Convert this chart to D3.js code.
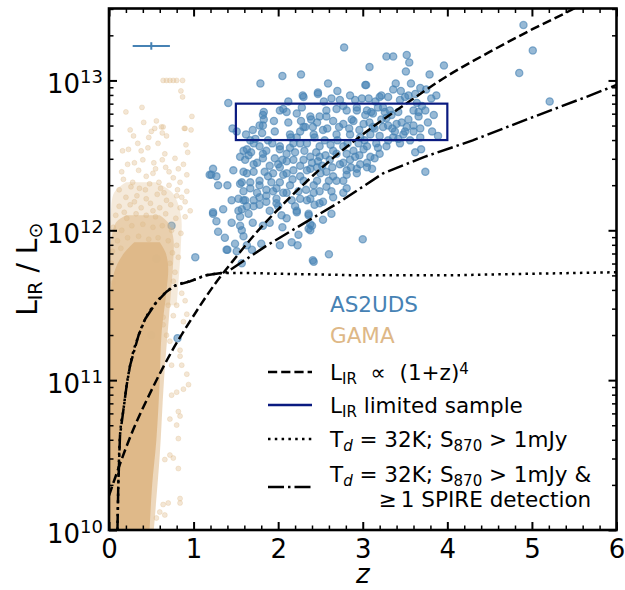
<!DOCTYPE html>
<html><head><meta charset="utf-8">
<script src="https://cdn.jsdelivr.net/npm/d3@7"></script>
<style>body{margin:0;background:#fff}svg{display:block}text{font-family:"DejaVu Sans",sans-serif;white-space:pre}</style>
</head><body><svg id="c" width="625" height="590"></svg>
<script>
// ---- data (z, log10 L_IR) ----
const xTicks = [0,1,2,3,4,5,6];
const yTickExps = [10,11,12,13];
const as2udsPts = [
[2.78,13.22],[2.05,13.03],[2.27,13.04],[1.79,12.98],[2.59,12.98],[2.29,12.90],[2.47,12.92],[1.41,12.85],[2.12,12.86],[2.54,12.86],[2.63,12.88],
[4.90,13.37],[5.01,13.20],[4.85,13.05],[5.21,12.86],
[3.28,13.16],[3.36,13.16],[3.52,13.17],[3.55,13.12],[3.08,13.09],[3.51,13.06],[3.96,13.10],[3.79,13.04],[3.04,12.97],[3.39,12.98],[3.57,12.98],[3.36,12.94],[3.68,12.95],[3.75,12.94],[3.87,12.90],[3.81,12.88],[3.22,12.90],[3.30,12.89],[3.50,12.89],[3.54,12.90],[3.07,12.88],[2.99,12.88],[2.91,12.87],[3.64,12.85],[3.70,12.83],[3.84,12.77],[3.89,12.63],[3.82,12.66],[3.68,12.68],[3.66,12.79],[3.74,12.80],[3.62,12.52],[3.69,12.54],[3.42,12.61],[3.50,12.66],[3.38,12.66],[3.30,12.70],[3.22,12.74],[3.14,12.68],[3.14,12.48],[3.01,12.54],[3.42,12.79],[3.34,12.77],[3.54,12.74],[3.10,12.79],[3.03,12.77],[3.18,12.82],[3.26,12.79],[3.46,12.72],[3.60,12.70],[3.77,12.72],
[2.02,12.80],[2.10,12.79],[1.83,12.79],[1.83,12.74],[1.82,12.70],[1.46,12.68],[1.51,12.66],[1.96,12.66],[1.81,12.65],[2.27,12.73],[2.39,12.74],[2.32,12.69],[2.46,12.72],[2.57,12.76],[2.69,12.81],[2.77,12.83],[2.87,12.74],[2.93,12.80],[1.67,12.60],[1.73,12.61],[2.02,12.54],[2.14,12.64],[2.22,12.62],[1.59,12.53],[1.65,12.50],[1.86,12.53],[1.78,12.56],
[1.82,12.77],[1.78,12.70],[2.06,12.81],[2.38,12.76],[2.41,12.69],[2.15,12.62],[2.26,12.66],[2.43,12.62],
[2.47,12.91],[2.30,12.89],[2.73,12.87],[3.03,12.97],[3.20,12.89],[3.68,12.62],[2.28,12.82],[2.49,12.76],[2.57,12.80],[2.81,12.80],[2.93,12.82],[3.05,12.80],[3.12,12.78],[3.24,12.82],[3.32,12.80],[3.44,12.87],[3.60,12.80],[3.66,12.76],
[2.65,12.73],[2.77,12.71],[2.89,12.73],[3.01,12.71],[3.12,12.69],[3.24,12.69],[3.40,12.71],[3.52,12.69],[3.60,12.66],[2.30,12.69],[2.42,12.64],[2.53,12.67],[2.69,12.64],[2.85,12.64],[2.97,12.62],[3.09,12.64],[3.20,12.63],[3.36,12.62],[3.44,12.58],[3.28,12.56],[3.16,12.58],[3.05,12.56],[2.89,12.53],[2.77,12.56],[2.65,12.53],[2.49,12.56],[2.34,12.58],[3.09,12.49],[2.97,12.44],[2.85,12.47],[2.73,12.44],[2.61,12.47],[2.49,12.49],[3.05,12.42],[2.93,12.38],[2.69,12.33],[2.57,12.29],[2.77,12.25],[2.65,12.22],[2.49,12.18],
[2.77,12.45],[2.81,12.40],[2.93,12.41],[3.05,12.45],[3.11,12.41],[3.20,12.51],[2.77,12.33],[3.74,12.39],[3.00,11.94],[2.60,11.84],[2.41,11.80],[2.53,12.07],[2.63,12.11],[2.36,12.11],[2.36,12.01],[2.40,12.03],
[1.23,12.41],[1.21,12.37],[1.27,12.36],[1.29,12.30],[1.35,12.14],[1.23,12.12],[1.27,12.06],[1.29,11.99],[1.37,11.95],[1.40,11.87],[1.49,11.91],[1.51,11.86],[1.57,11.78],[1.55,12.03],[1.57,12.00],[1.59,11.96],[1.63,11.90],[1.69,11.87],[1.80,11.91],[1.82,12.03],[2.02,11.90],[2.16,11.92],[2.23,11.90],[2.24,11.97],[2.38,12.00],[2.38,12.04],[2.42,11.79],[2.36,12.10],[2.20,12.16],[2.22,12.12],[2.04,12.10],[2.10,12.08],[2.00,12.16],[1.57,12.14],[1.63,12.16],[1.53,12.13],[1.65,12.11],[1.55,12.09],[1.78,12.17],[1.86,12.19],[1.90,12.13],[1.98,12.21],[2.81,12.37],[2.81,12.28],[2.63,12.26],[2.49,12.26],[2.53,12.19],[2.38,12.21],[2.43,12.17],[2.26,12.21],[2.24,12.26],[2.10,12.25],[2.14,12.30],[1.98,12.28],[1.86,12.23],[1.92,12.32],[1.78,12.30],[1.67,12.28],[1.59,12.26],[1.53,12.21],[1.61,12.20],[1.71,12.20],[1.67,12.32],[1.57,12.32],[1.78,12.33],[1.84,12.39],[1.71,12.39],[1.59,12.39],[1.61,12.47],[1.82,12.48],[2.00,12.44],[2.10,12.46],[2.18,12.40],[2.26,12.43],[2.38,12.41],[2.47,12.46],[2.57,12.39],[2.65,12.36],[2.30,12.33],[2.42,12.30],[2.06,12.37],[2.91,12.49],
[1.55,12.49],[1.63,12.54],[1.71,12.58],[1.82,12.51],[1.90,12.43],[1.71,12.44],[1.63,12.38],[1.55,12.31],[2.02,12.56],[2.10,12.51],[2.18,12.47],[2.26,12.58],[2.38,12.49],[2.46,12.42],[1.94,12.38],[2.10,12.38],[2.26,12.36],[1.86,12.27],[2.06,12.25],[1.98,12.18],[1.78,12.22],[1.71,12.16],[1.59,12.20],[2.34,12.20],[2.42,12.25],[2.22,12.13],[2.46,12.33],[2.02,12.42],[2.34,12.40],[2.18,12.58],[1.23,12.11],[1.39,11.87],
[0.74,12.03],[1.02,11.82],[1.19,12.37],[0.81,11.28],[0.56,11.81],[0.50,11.30],
[2.55,12.60],[2.62,12.57],[2.70,12.60],[2.82,12.58],[2.95,12.58],[3.02,12.60],[2.58,12.68],[2.72,12.69],[2.84,12.68],[2.96,12.67],[3.08,12.72],[2.45,12.52],[2.56,12.50],[2.69,12.51],[2.81,12.51],[2.96,12.50],[2.40,12.45],[2.52,12.43],[2.64,12.42],[2.86,12.42],[2.20,12.52],[2.31,12.53],[2.14,12.55],[1.96,12.48],[2.05,12.47],[2.30,12.47],[2.17,12.34],[2.33,12.27],[2.02,12.32],[1.94,12.26],[2.16,12.20],[2.60,12.33],[2.50,12.38],[3.18,12.55],[3.30,12.60],[3.35,12.68],[3.48,12.64],[3.56,12.60],[3.28,12.75],[3.15,12.86],[2.85,12.90],[2.70,12.93],[3.45,12.93],[3.62,12.91],[2.12,12.72],[2.22,12.78],[1.95,12.73],[1.70,12.67],[1.62,12.64],[1.88,12.60],[1.93,12.58],[1.75,12.45],[1.68,12.52],[1.88,12.36],[1.75,12.25],[1.90,12.05],[2.05,12.02],[1.70,12.05],[1.45,12.05],[1.45,12.20],[1.40,12.30],[1.47,12.40]
];
const gamaPts = [
[0.64,13.0],[0.68,13.0],[0.72,13.0],[0.76,13.0],[0.80,13.0],[0.87,13.0],
[0.85,12.93],[0.87,12.89],[0.20,12.79],[0.39,12.82],[0.41,12.72],[0.56,12.73],[0.62,12.69],[0.25,12.67],[0.50,12.66],[0.47,12.62],[0.63,12.65],[0.89,12.68],[0.97,12.67],[0.29,12.63],[0.34,12.58],[0.16,12.53],[0.23,12.54],[0.38,12.53],[0.91,12.57],[0.93,12.52],[0.66,12.51],[0.63,12.47],[0.30,12.45],[0.40,12.47],[0.78,12.48],[0.88,12.44],[0.15,12.39],[0.55,12.41],[0.67,12.42],[0.71,12.39],[0.82,12.41],[0.92,12.37],[0.17,12.34],[0.28,12.32],[0.44,12.36],[0.52,12.38],[0.59,12.32],[0.76,12.35],[0.84,12.32],[0.12,12.27],[0.26,12.29],[0.36,12.28],[0.48,12.31],[0.61,12.28],[0.71,12.30],[0.81,12.27],[0.92,12.26],[0.20,12.22],[0.33,12.23],[0.44,12.21],[0.57,12.24],[0.68,12.20],[0.80,12.23],[0.90,12.19],[0.12,12.16],[0.25,12.17],[0.38,12.15],[0.49,12.18],[0.60,12.15],[0.73,12.17],[0.84,12.15],[0.96,12.13],[0.08,12.10],[0.21,12.08],[0.32,12.11],[0.44,12.10],[0.55,12.09],[0.67,12.11],[0.79,12.08],[0.90,12.09],
[0.98,12.76],[0.90,12.68],[0.64,12.69],[0.54,12.68],[0.68,12.63],[0.46,12.55],[0.53,12.45],[0.35,12.40],[0.22,12.44],[0.58,12.58],[0.43,12.27],[0.65,12.25],[0.30,12.19],[0.52,12.13],[0.86,12.22],[0.18,12.12],
[0.86,11.58],[0.90,11.53],[0.92,11.44],[0.88,11.39],[0.84,11.20],[0.84,11.16],[0.86,11.10],[0.74,11.10],[0.92,11.04],[0.94,10.97],[0.88,10.94],[0.80,10.92],[0.74,10.90],[0.82,10.79],[0.84,10.76],[0.72,10.74],[0.82,10.61],[0.72,10.50],[0.76,10.48],[0.82,10.41],[0.66,10.47],[0.84,10.21],[0.84,10.18],[0.64,10.17],[0.70,10.18],[0.60,10.12],[0.66,10.10],[0.56,10.08],[0.80,10.70],[0.68,11.30],[0.72,11.26],[0.64,11.37],[0.76,11.43],[0.70,11.50],[0.80,11.50],[0.64,11.42],
[0.05,12.02],[0.15,12.00],[0.27,12.03],[0.40,12.04],[0.52,12.02],[0.63,12.03],[0.74,12.00],[0.85,11.98],[0.10,11.93],[0.22,11.95],[0.35,11.96],[0.47,11.94],[0.58,11.95],[0.70,11.93],[0.80,11.90],[0.04,11.86],[0.14,11.88],[0.75,11.85],[0.82,11.82],[0.72,11.78],[0.03,11.78],[0.10,11.72],[0.78,11.72],[0.05,11.65],[0.76,11.66]
];
// dense GAMA envelopes (three density levels)
const gamaCoreLogL = [10.0,10.3,10.6,11.0,11.3,11.6,11.75,11.85,11.92];
const gamaCoreZmin = [0,0,0,0,0,0.02,0.08,0.18,0.30];
const gamaCoreZmax = [0.48,0.51,0.56,0.60,0.62,0.68,0.70,0.67,0.60];
const gamaMidLogL = [10.0,10.5,11.0,11.5,11.8,11.95,12.05,12.1];
const gamaMidZmin = [0,0,0,0,0,0.03,0.08,0.2];
const gamaMidZmax = [0.53,0.60,0.65,0.72,0.76,0.76,0.70,0.6];
const gamaOuterLogL = [11.5,11.9,12.1,12.25,12.32];
const gamaOuterZmin = [0,0,0.02,0.06,0.2];
const gamaOuterZmax = [0.8,0.85,0.85,0.75,0.55];
// model tracks
const evoZ = [0,0.25,0.5,0.75,1,1.25,1.5,1.75,2,2.5,3,3.5,4,4.5,5,5.5,5.7];
const evoLogL = [10.23,10.62,10.93,11.20,11.43,11.64,11.82,11.99,12.14,12.41,12.64,12.84,13.03,13.19,13.34,13.48,13.54];
const tdZ = [0.10,0.11,0.13,0.17,0.21,0.25,0.35,0.43,0.56,0.68,0.78,0.96,1.15,1.39,1.6,2.0,2.5,3.0,3.5,4.0,4.5,5.0,5.5,6.0];
const tdLogL = [10.0,10.3,10.63,10.8,10.97,11.10,11.30,11.41,11.52,11.59,11.63,11.66,11.70,11.715,11.715,11.71,11.705,11.70,11.70,11.70,11.705,11.71,11.715,11.72];
const spireZ = [0.10,0.11,0.13,0.17,0.21,0.25,0.35,0.43,0.56,0.68,0.78,0.96,1.15,1.39,1.87,2.73,3.24,3.73,4.3,4.94,5.69,6.0];
const spireLogL = [10.0,10.3,10.63,10.8,10.97,11.10,11.30,11.41,11.52,11.59,11.63,11.66,11.70,11.72,11.90,12.19,12.38,12.49,12.6,12.74,12.9,12.97];
const boxZ = [1.5,4.0];
const boxLogL = [Math.log10(4e12),Math.log10(7e12)];
const errZ = 0.5, errZHalf = 0.22, errLogL = 13.23, errLogLHalf = 0.025;

// ---- chart ----
const svg = d3.select('#c');
const X0=109, X1=616.5, Y0=530, Y1=8.5;
const x = d3.scaleLinear([0,6],[X0,X1]);
const y = d3.scaleLog([1e10, Math.pow(10,13.48)],[Y0,Y1]);
const Y = v => y(Math.pow(10,v));
const blue = '#4682b4', tan = '#deb887', navy = '#0a1a80';

svg.append('defs').append('clipPath').attr('id','clip').append('rect')
  .attr('x',X0).attr('y',Y1).attr('width',X1-X0).attr('height',Y0-Y1);
const plot = svg.append('g').attr('clip-path','url(#clip)');

// AS2UDS
plot.append('g').selectAll('circle').data(as2udsPts).join('circle')
  .attr('cx',d=>x(d[0])).attr('cy',d=>Y(d[1])).attr('r',3.6)
  .attr('fill',blue).attr('fill-opacity',0.56).attr('stroke',blue).attr('stroke-opacity',0.6).attr('stroke-width',1.3);

// GAMA
const env = (L,a,b)=>L.map((l,i)=>({l,a:a[i],b:b[i]}));
const area = d3.area().y(d=>Y(d.l)).x0(d=>x(d.a)).x1(d=>x(d.b)).curve(d3.curveCatmullRom.alpha(0.5));
plot.append('path').attr('d',area(env(gamaOuterLogL,gamaOuterZmin,gamaOuterZmax))).attr('fill',tan).attr('fill-opacity',0.3);
plot.append('path').attr('d',area(env(gamaMidLogL,gamaMidZmin,gamaMidZmax))).attr('fill',tan).attr('fill-opacity',0.55);
plot.append('g').selectAll('circle').data(gamaPts).join('circle')
  .attr('cx',d=>x(d[0])).attr('cy',d=>Y(d[1])).attr('r',2.5)
  .attr('fill',tan).attr('fill-opacity',0.35).attr('stroke',tan).attr('stroke-opacity',0.35).attr('stroke-width',0.8);
plot.append('path').attr('d',area(env(gamaCoreLogL,gamaCoreZmin,gamaCoreZmax))).attr('fill',tan).attr('fill-opacity',0.97);

// lines
const line = d3.line().x(d=>x(d[0])).y(d=>Y(d[1])).curve(d3.curveMonotoneX);
const zip = (a,b)=>a.map((v,i)=>[v,b[i]]);
plot.append('path').attr('d',line(zip(tdZ,tdLogL))).attr('fill','none').attr('stroke','#000').attr('stroke-width',2.5).attr('stroke-dasharray','2.5,4.3');
plot.append('path').attr('d',line(zip(evoZ,evoLogL))).attr('fill','none').attr('stroke','#000').attr('stroke-width',2.5).attr('stroke-dasharray','9.2,4');
plot.append('path').attr('d',d3.line().x(d=>x(d[0])).y(d=>Y(d[1]))(zip(spireZ,spireLogL))).attr('fill','none').attr('stroke','#000').attr('stroke-width',2.5).attr('stroke-dasharray','16,4,2.5,4');
plot.append('rect').attr('x',x(boxZ[0])).attr('y',Y(boxLogL[1])).attr('width',x(boxZ[1])-x(boxZ[0])).attr('height',Y(boxLogL[0])-Y(boxLogL[1]))
  .attr('fill','none').attr('stroke',navy).attr('stroke-width',2.2);

// error bar
const eb = svg.append('g').attr('stroke',blue).attr('stroke-width',2);
eb.append('line').attr('x1',x(errZ-errZHalf)).attr('x2',x(errZ+errZHalf)).attr('y1',Y(errLogL)).attr('y2',Y(errLogL));
eb.append('line').attr('x1',x(errZ)).attr('x2',x(errZ)).attr('y1',Y(errLogL-errLogLHalf)).attr('y2',Y(errLogL+errLogLHalf));

// axes ticks (inward, all four sides)
const xMinor = d3.range(0,6.001,0.2).filter(v=>Math.abs(v-Math.round(v))>1e-6);
const yMajor = yTickExps.map(e=>Math.pow(10,e));
const yMinor = [];
for (let e=10;e<=13;e++) for (let k=2;k<=9;k++){const v=k*Math.pow(10,e); if (v<=y.domain()[1]) yMinor.push(v);}
function axisG(axis, tr){ const g=svg.append('g').attr('transform',tr).call(axis); g.select('.domain').remove(); g.selectAll('line').attr('stroke','#000'); return g;}
const bx = axisG(d3.axisBottom(x).tickValues(xTicks).tickSize(-8).tickPadding(9.5).tickFormat(d3.format('d')),`translate(0,${Y0})`);
bx.selectAll('line').attr('stroke-width',2);
bx.selectAll('text').attr('font-size',26).attr('fill','#000').attr('font-family','DejaVu Sans');
axisG(d3.axisBottom(x).tickValues(xMinor).tickSize(-4.5).tickFormat(''),`translate(0,${Y0})`).selectAll('line').attr('stroke-width',1.5);
axisG(d3.axisTop(x).tickValues(xTicks).tickSize(-8).tickFormat(''),`translate(0,${Y1})`).selectAll('line').attr('stroke-width',2);
axisG(d3.axisTop(x).tickValues(xMinor).tickSize(-4.5).tickFormat(''),`translate(0,${Y1})`).selectAll('line').attr('stroke-width',1.5);
axisG(d3.axisLeft(y).tickValues(yMajor).tickSize(-8).tickFormat(''),`translate(${X0},0)`).selectAll('line').attr('stroke-width',2);
axisG(d3.axisLeft(y).tickValues(yMinor).tickSize(-4.5).tickFormat(''),`translate(${X0},0)`).selectAll('line').attr('stroke-width',1.5);
axisG(d3.axisRight(y).tickValues(yMajor).tickSize(-8).tickFormat(''),`translate(${X1},0)`).selectAll('line').attr('stroke-width',2);
axisG(d3.axisRight(y).tickValues(yMinor).tickSize(-4.5).tickFormat(''),`translate(${X1},0)`).selectAll('line').attr('stroke-width',1.5);
svg.append('rect').attr('x',X0).attr('y',Y1).attr('width',X1-X0).attr('height',Y0-Y1).attr('fill','none').attr('stroke','#000').attr('stroke-width',2.6);

// y tick labels 10^n
yTickExps.forEach(e=>{
  const t = svg.append('text').attr('x',103).attr('y',y(Math.pow(10,e))+12.7).attr('text-anchor','end').attr('font-size',26).attr('fill','#000');
  t.append('tspan').text('10');
  t.append('tspan').attr('dy',-10.2).attr('font-size',18).text(String(e));
});

// axis titles
svg.append('text').attr('x',(X0+X1)/2).attr('y',583).attr('text-anchor','middle').attr('font-size',26).attr('font-style','italic').text('z');
const yl = svg.append('text').attr('transform',`translate(37,${(Y0+Y1)/2}) rotate(-90)`).attr('text-anchor','middle').attr('font-size',28);
yl.append('tspan').text('L');
yl.append('tspan').attr('font-size',19).attr('dy',4.5).text('IR');
yl.append('tspan').attr('dy',-4.5).text(' / L');
yl.append('tspan').attr('font-size',19).attr('dy',4.5).text('\u2299');

// legend
function rich(x0,y0,parts,anchor){
  const t = svg.append('text').attr('x',x0).attr('y',y0).attr('font-size',21.5).attr('fill','#000');
  if(anchor) t.attr('text-anchor',anchor);
  let cur=0;
  parts.forEach(p=>{
    const s=t.append('tspan').text(p.t);
    const tgt = p.sub?3.5:(p.sup?-6:0);
    if(tgt!==cur) s.attr('dy',tgt-cur);
    cur=tgt;
    if(p.sub||p.sup) s.attr('font-size',15);
    if(p.it) s.attr('font-style','italic');
  });
  return t;
}
svg.append('text').attr('x',330).attr('y',312).attr('font-size',21.5).attr('fill',blue).text('AS2UDS');
svg.append('text').attr('x',330).attr('y',343).attr('font-size',21.5).attr('fill',tan).text('GAMA');
const LX0=268, LX1=312;
svg.append('line').attr('x1',LX0).attr('x2',LX1).attr('y1',372).attr('y2',372).attr('stroke','#000').attr('stroke-width',2.5).attr('stroke-dasharray','9.2,4');
rich(330,380,[{t:'L'},{t:'IR',sub:1},{t:'  \u221d  (1+z)'},{t:'4',sup:1}]);
svg.append('line').attr('x1',LX0).attr('x2',LX1).attr('y1',405).attr('y2',405).attr('stroke',navy).attr('stroke-width',2.5);
rich(330,413,[{t:'L'},{t:'IR',sub:1},{t:' limited sample'}]);
svg.append('line').attr('x1',LX0).attr('x2',LX1).attr('y1',439).attr('y2',439).attr('stroke','#000').attr('stroke-width',2.5).attr('stroke-dasharray','2.5,4.3');
rich(330,447,[{t:'T'},{t:'d',sub:1,it:1},{t:' = 32K; S'},{t:'870',sub:1},{t:' > 1mJy'}]);
svg.append('line').attr('x1',LX0).attr('x2',LX1).attr('y1',487).attr('y2',487).attr('stroke','#000').attr('stroke-width',2.5).attr('stroke-dasharray','16,4,2.5,4');
const l4 = rich(330,482,[{t:'T'},{t:'d',sub:1,it:1},{t:' = 32K; S'},{t:'870',sub:1},{t:' > 1mJy &'}]);
const endX = 330 + l4.node().getComputedTextLength();
svg.append('text').attr('x',endX).attr('y',507).attr('text-anchor','end').attr('font-size',21.5).text('\u2265\u20091 SPIRE detection');
</script></body></html>
